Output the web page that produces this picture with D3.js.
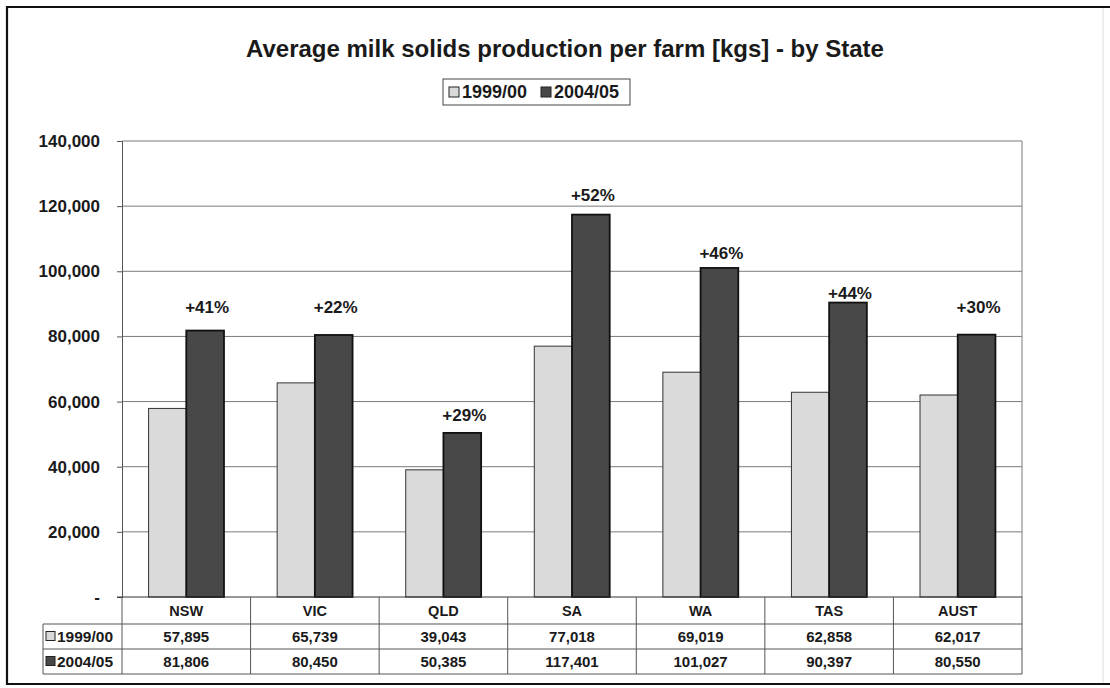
<!DOCTYPE html>
<html>
<head>
<meta charset="utf-8">
<script src="https://cdn.jsdelivr.net/npm/d3@7"></script>
<style>
  body { margin: 0; background: #fff; }
  svg text { font-family: "Liberation Sans", Arial, sans-serif; font-weight: bold; fill: #1a1a1a; }
</style>
</head>
<body>
<div id="chart"></div>
<script>
// Data
const states = ["NSW", "VIC", "QLD", "SA", "WA", "TAS", "AUST"];
const series = ["1999/00", "2004/05"];
const values1999 = [57895, 65739, 39043, 77018, 69019, 62858, 62017];
const values2004 = [81806, 80450, 50385, 117401, 101027, 90397, 80550];
// height (in kgs) where each growth label sits
const labelLevels = [89000, 89000, 56000, 123500, 105500, 93500, 89000];
const yTicks = [0, 20000, 40000, 60000, 80000, 100000, 120000, 140000];

const width = 1110, height = 688;
const plot = { left: 122, right: 1022, top: 141, bottom: 597 };
const rowH = 25; // table row height
const fills = { "1999/00": "#dadada", "2004/05": "#484848" };
const strokes = { "1999/00": "#333", "2004/05": "#111" };

const svg = d3.select("#chart").append("svg")
  .attr("width", width)
  .attr("height", height);

// outer frame
svg.append("path")
  .attr("d", "M1110,7 H7 V684 H1110")
  .attr("fill", "none")
  .attr("stroke", "#111")
  .attr("stroke-width", 2.2);
svg.append("line")
  .attr("x1", 1103).attr("x2", 1103).attr("y1", 8).attr("y2", 683)
  .attr("stroke", "#ddd");

// title
svg.append("text")
  .attr("x", 565).attr("y", 57)
  .attr("text-anchor", "middle")
  .attr("font-size", "24px")
  .text("Average milk solids production per farm [kgs] - by State");

// scales
const x0 = d3.scaleBand().domain(states).range([plot.left, plot.right]).padding(0);
const x1 = d3.scaleBand().domain(series).range([0, x0.bandwidth()]).paddingInner(0).paddingOuter(0.705);
const y = d3.scaleLinear().domain([0, 140000]).range([plot.bottom, plot.top]);

// gridlines
svg.append("g")
  .selectAll("line")
  .data(yTicks.slice(1))
  .join("line")
  .attr("x1", plot.left).attr("x2", plot.right)
  .attr("y1", d => y(d)).attr("y2", d => y(d))
  .attr("stroke", "#7a7a7a")
  .attr("stroke-width", 1);

// plot right edge
svg.append("line")
  .attr("x1", plot.right).attr("x2", plot.right)
  .attr("y1", plot.top).attr("y2", plot.bottom)
  .attr("stroke", "#7a7a7a");

// y axis
const yAxis = d3.axisLeft(y)
  .tickValues(yTicks)
  .tickSize(5)
  .tickPadding(17)
  .tickFormat(d => d === 0 ? "-" : d3.format(",")(d));
const yG = svg.append("g")
  .attr("transform", `translate(${plot.left},0)`)
  .call(yAxis);
yG.select(".domain").attr("stroke", "#555");
yG.selectAll(".tick line").attr("stroke", "#555");
yG.selectAll(".tick text")
  .attr("font-size", "17px")
  .attr("font-family", null)
  .style("fill", "#1a1a1a");

// bars
const barData = states.map((s, i) => ({ state: s, vals: [values1999[i], values2004[i]] }));
const groups = svg.append("g")
  .selectAll("g")
  .data(barData)
  .join("g")
  .attr("transform", d => `translate(${x0(d.state)},0)`);

groups.selectAll("rect")
  .data(d => series.map((s, j) => ({ key: s, value: d.vals[j] })))
  .join("rect")
  .attr("x", d => x1(d.key))
  .attr("y", d => y(d.value))
  .attr("width", x1.bandwidth())
  .attr("height", d => y(0) - y(d.value))
  .attr("fill", d => fills[d.key])
  .attr("stroke", d => strokes[d.key])
  .attr("stroke-width", d => d.key === "2004/05" ? 1.8 : 1);

// growth labels above the 2004/05 bars
svg.append("g")
  .selectAll("text")
  .data(barData)
  .join("text")
  .attr("x", d => x0(d.state) + x1("2004/05") + x1.bandwidth() / 2 + 2)
  .attr("y", (d, i) => y(labelLevels[i]))
  .attr("dy", "0.36em")
  .attr("text-anchor", "middle")
  .attr("font-size", "17px")
  .text(d => "+" + Math.round((d.vals[1] / d.vals[0] - 1) * 100) + "%");

// baseline
svg.append("line")
  .attr("x1", plot.left - 5).attr("x2", plot.right)
  .attr("y1", plot.bottom).attr("y2", plot.bottom)
  .attr("stroke", "#333");

// data table under the axis
const tableLeft = 43;
const table = svg.append("g").attr("stroke", "#555").attr("stroke-width", 1);
[1, 2, 3].forEach(r => {
  table.append("line")
    .attr("x1", tableLeft).attr("x2", plot.right)
    .attr("y1", plot.bottom + r * rowH + 2).attr("y2", plot.bottom + r * rowH + 2);
});
table.append("line")
  .attr("x1", tableLeft).attr("x2", tableLeft)
  .attr("y1", plot.bottom + rowH + 2).attr("y2", plot.bottom + 3 * rowH + 2);
table.selectAll(".sep")
  .data(states.map(s => x0(s)).concat([plot.right]))
  .join("line")
  .attr("class", "sep")
  .attr("x1", d => d).attr("x2", d => d)
  .attr("y1", plot.bottom).attr("y2", plot.bottom + 3 * rowH + 2);

// category labels
svg.append("g")
  .selectAll("text")
  .data(states)
  .join("text")
  .attr("x", d => x0(d) + x0.bandwidth() / 2)
  .attr("y", plot.bottom + 14)
  .attr("dy", "0.36em")
  .attr("text-anchor", "middle")
  .attr("font-size", "14.5px")
  .text(d => d);

// value rows
const rows = [values1999, values2004];
rows.forEach((vals, r) => {
  const cy = plot.bottom + rowH + 2 + r * rowH + rowH / 2;
  svg.append("g")
    .selectAll("text")
    .data(vals)
    .join("text")
    .attr("x", (d, i) => x0(states[i]) + x0.bandwidth() / 2)
    .attr("y", cy)
    .attr("dy", "0.36em")
    .attr("text-anchor", "middle")
    .attr("font-size", "15px")
    .text(d => d3.format(",")(d));
  svg.append("rect")
    .attr("x", tableLeft + 3).attr("y", cy - 5)
    .attr("width", 9).attr("height", 9)
    .attr("fill", fills[series[r]])
    .attr("stroke", "#222");
  svg.append("text")
    .attr("x", tableLeft + 14).attr("y", cy)
    .attr("dy", "0.36em")
    .attr("font-size", "15.5px")
    .text(series[r]);
});

// legend
const legend = svg.append("g").attr("transform", "translate(443,79)");
legend.append("rect")
  .attr("width", 187).attr("height", 26)
  .attr("fill", "#fff")
  .attr("stroke", "#444");
const legendX = d3.scaleOrdinal().domain(series).range([6, 98]);
series.forEach(s => {
  legend.append("rect")
    .attr("x", legendX(s)).attr("y", 8)
    .attr("width", 10).attr("height", 10)
    .attr("fill", fills[s])
    .attr("stroke", "#222");
  legend.append("text")
    .attr("x", legendX(s) + 13).attr("y", 13)
    .attr("dy", "0.36em")
    .attr("font-size", "18px")
    .text(s);
});
</script>
</body>
</html>
